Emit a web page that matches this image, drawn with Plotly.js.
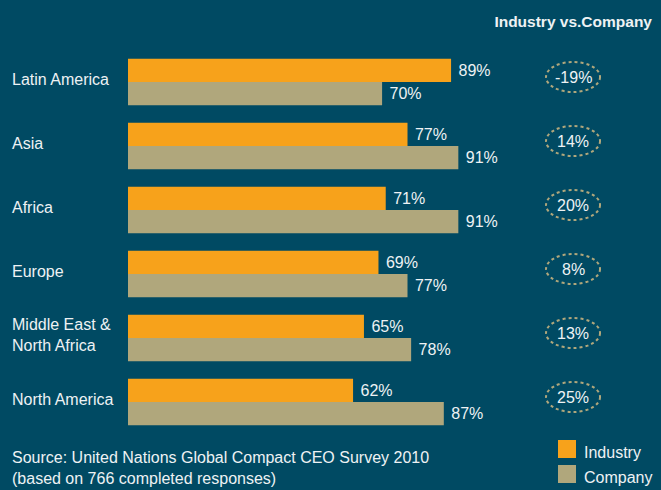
<!DOCTYPE html>
<html>
<head>
<meta charset="utf-8">
<script src="https://cdn.plot.ly/plotly-3.0.1.min.js"></script>
<style>
  html, body { margin: 0; padding: 0; background: #004a63; }
  #chart { width: 661px; height: 490px; }
</style>
</head>
<body>
<div id="chart"></div>
<script>
// values
var regions = ['Latin America', 'Asia', 'Africa', 'Europe', 'Middle East &<br>North Africa', 'North America'];
var industry = [89, 77, 71, 69, 65, 62];
var company = [70, 91, 91, 77, 78, 87];
var gaps = ['-19%', '14%', '20%', '8%', '13%', '25%'];

var bg = '#004a63';
var orange = '#f7a21b';
var tan = '#b0a77c';
var txt = '#eef2f4';
var fnt = 'Liberation Sans, Arial, sans-serif';

var data = [{
    type: 'bar',
    orientation: 'h',
    name: 'Industry',
    y: regions,
    x: industry,
    marker: {color: orange},
    texttemplate: '\u00a0%{x}%',
    textposition: 'outside',
    cliponaxis: false,
    textfont: {color: txt, size: 16, family: fnt},
    hoverinfo: 'none'
}, {
    type: 'bar',
    orientation: 'h',
    name: 'Company',
    y: regions,
    x: company,
    marker: {color: tan},
    texttemplate: '\u00a0%{x}%',
    textposition: 'outside',
    cliponaxis: false,
    textfont: {color: txt, size: 16, family: fnt},
    hoverinfo: 'none'
}];

var shapes = [];
var annotations = [];
var labelX = -0.3251;

// ellipses with the gap between industry and company
for (let i = 0; i < regions.length; i++) {
    shapes.push({
        type: 'circle',
        xref: 'paper', yref: 'y',
        xsizemode: 'pixel', ysizemode: 'pixel',
        xanchor: 1.226, yanchor: regions[i],
        x0: -27, x1: 27, y0: -10, y1: 20,
        line: {color: tan, width: 2, dash: '3px,3px'}
    });
    annotations.push({
        xref: 'paper', yref: 'y',
        x: 1.226, y: regions[i],
        xanchor: 'center', yanchor: 'middle',
        yshift: 5,
        text: gaps[i],
        showarrow: false,
        font: {color: txt, size: 16, family: fnt}
    });
    annotations.push({
        xref: 'paper', yref: 'y',
        x: labelX, y: regions[i],
        xanchor: 'left', align: 'left',
        yshift: 3,
        text: regions[i],
        showarrow: false,
        font: {color: txt, size: 16, family: fnt}
    });
}

// legend swatches
shapes.push({type: 'rect', xref: 'paper', yref: 'paper', x0: 1.1846, x1: 1.2342, y0: -0.0156, y1: -0.0625,
    fillcolor: orange, line: {width: 0}});
shapes.push({type: 'rect', xref: 'paper', yref: 'paper', x0: 1.1846, x1: 1.2342, y0: -0.0807, y1: -0.1276,
    fillcolor: tan, line: {width: 0}});
annotations.push({xref: 'paper', yref: 'paper', x: 1.2507, y: -0.047, xanchor: 'left', yanchor: 'middle',
    text: 'Industry', showarrow: false, font: {color: txt, size: 16, family: fnt}});
annotations.push({xref: 'paper', yref: 'paper', x: 1.2507, y: -0.1120, xanchor: 'left', yanchor: 'middle',
    text: 'Company', showarrow: false, font: {color: txt, size: 16, family: fnt}});

// source note
annotations.push({xref: 'paper', yref: 'paper', x: labelX, y: -0.06, xanchor: 'left', yanchor: 'middle',
    text: 'Source: United Nations Global Compact CEO Survey 2010', showarrow: false,
    font: {color: txt, size: 16, family: fnt}});
annotations.push({xref: 'paper', yref: 'paper', x: labelX, y: -0.117, xanchor: 'left', yanchor: 'middle',
    text: '(based on 766 completed responses)', showarrow: false,
    font: {color: txt, size: 16, family: fnt}});

var layout = {
    width: 661,
    height: 490,
    paper_bgcolor: bg,
    plot_bgcolor: bg,
    margin: {l: 128, r: 170, t: 50, b: 56},
    barmode: 'group',
    bargap: 0.27,
    bargroupgap: 0,
    showlegend: false,
    title: {
        text: '<b>Industry vs.Company</b>',
        xref: 'container', x: 0.9864, xanchor: 'right',
        yref: 'container', y: 0.955, yanchor: 'middle',
        font: {color: txt, size: 15.5, family: fnt}
    },
    xaxis: {
        range: [0, 100],
        visible: false,
        fixedrange: true
    },
    yaxis: {
        autorange: 'reversed',
        showticklabels: false,
        showgrid: false,
        zeroline: false,
        showline: false,
        ticks: '',
        fixedrange: true
    },
    shapes: shapes,
    annotations: annotations,
    font: {family: fnt, color: txt}
};

Plotly.newPlot('chart', data, layout, {staticPlot: true});
</script>
</body>
</html>
